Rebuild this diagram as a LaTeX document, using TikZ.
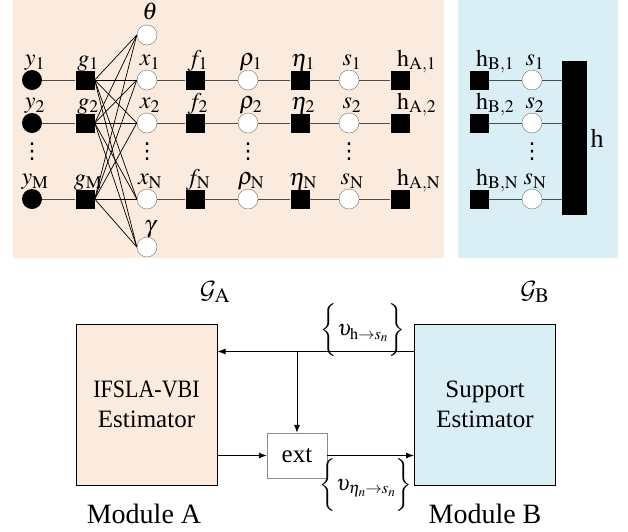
\documentclass[tikz,border=0pt]{standalone}
\usepackage{amsmath}
\usepackage{graphicx}
\usepackage{mathptmx}
\DeclareMathAlphabet{\mathcal}{OMS}{cmsy}{m}{n}
\usepackage[no-math]{fontspec}
\setmainfont{Liberation Serif}
\newfontfamily\dejavu{DejaVu Sans}
\usepackage{tikz}
\usetikzlibrary{arrows.meta,calc,arrows,positioning}
\tikzset{>={Latex[length=8pt,width=6pt]}}
\definecolor{peach}{RGB}{251,234,222}
\definecolor{paleblue}{RGB}{218,238,245}
\tikzset{
  var/.style={circle, draw=black!55, fill=white, minimum size=20pt, inner sep=0pt},
  obs/.style={circle, fill=black, minimum size=20pt, inner sep=0pt},
  fac/.style={rectangle, fill=black, minimum size=19pt, inner sep=0pt},
  lbl/.style={anchor=base, inner sep=0pt, xshift=3pt, yshift=4pt, font=\fontsize{24}{26}\selectfont},
  wire/.style={draw=black!70, line width=0.9pt},
  link/.style={draw=black, line width=0.7pt},
  module/.style={draw, line width=1pt, minimum width=141pt, minimum height=161pt, align=center, font=\fontsize{25}{30}\selectfont},
  bigtext/.style={font=\fontsize{28}{30}\selectfont},
}

\begin{document}
\begin{tikzpicture}[x=1pt,y=-1pt]
  \useasboundingbox (0,0) rectangle (628,531);

  % shaded areas of the two graphs
  \fill[peach] (13,0) rectangle (444,258);
  \fill[paleblue] (458,0) rectangle (618,258);

  % graph A
  \node[var] (th) at (147,35) {};
  \node[var] (gam) at (147,247) {};
  \node[lbl, xshift=0pt, yshift=1pt] (lth) at (th.north) {$\boldsymbol{\theta}$};
  \node[lbl, xshift=0pt] (lgam) at (gam.north) {$\gamma$};
  \foreach \r/\yy/\m/\n in {1/80/1/1,2/123/2/2,3/199/\mathrm{M}/\mathrm{N}}
  {
    \node[obs] (y\r) at (32,\yy) {};
    \node[fac] (g\r) at (85,\yy) {};
    \node[var] (x\r) at (147,\yy) {};
    \node[fac] (f\r) at (195,\yy) {};
    \node[var] (rh\r) at (248,\yy) {};
    \node[fac] (et\r) at (300,\yy) {};
    \node[var] (s\r) at (349,\yy) {};
    \node[fac] (ha\r) at (400,\yy) {};
    \node[lbl] (ly\r) at (y\r.north) {$y_{\m}$};
    \node[lbl] (lg\r) at (g\r.north) {$g_{\m}$};
    \node[lbl] (lx\r) at (x\r.north) {$x_{\n}$};
    \node[lbl] (lf\r) at (f\r.north) {$f_{\n}$};
    \node[lbl] (lrh\r) at (rh\r.north) {$\rho_{\n}$};
    \node[lbl] (let\r) at (et\r.north) {$\eta_{\n}$};
    \node[lbl] (ls\r) at (s\r.north) {$s_{\n}$};
    \node[lbl, anchor=base west, xshift=-6pt] (lha\r) at (ha\r.north) {$\mathrm{h}_{\mathrm{A},\n}$};
    \draw[wire] (y\r) -- (g\r) -- (x\r) -- (f\r) -- (rh\r) -- (et\r) -- (s\r) -- (ha\r);
  }
  \foreach \r in {1,2,3}
    \foreach \t in {th,x1,x2,x3,gam}
      \draw[link] (g\r.east) -- (\t.west);
  \foreach \d/\xx in {dy/32,dx/147,drh/248,ds/349,dsb/532}
    \node[font=\fontsize{22}{24}\dejavu, inner sep=0pt] (\d) at (\xx,152) {⋮};

  % graph B
  \node[fac, minimum width=25pt, minimum height=154pt] (bar) at (574.5,138) {};
  \node[font=\fontsize{26}{28}\selectfont, anchor=west] (hbig) at (bar.east) {h};
  \foreach \r/\yy/\n in {1/80/1,2/123/2,3/199/\mathrm{N}}
  {
    \node[fac] (hb\r) at (479,\yy) {};
    \node[var] (sb\r) at (532,\yy) {};
    \node[lbl, anchor=base west, xshift=-6pt] (lhb\r) at (hb\r.north) {$\mathrm{h}_{\mathrm{B},\n}$};
    \node[lbl] (lsb\r) at (sb\r.north) {$s_{\n}$};
    \draw[wire] (hb\r) -- (sb\r) -- (sb\r -| bar.west);
  }

  % modules
  \node[bigtext] (GA) at (215,292) {$\mathcal{G}_{\mathrm{A}}$};
  \node[bigtext] (GB) at (535,292) {$\mathcal{G}_{\mathrm{B}}$};
  \node[module, fill=peach] (ma) at (146.5,404.5) {\scalebox{0.88}[1]{IFSLA-VBI}\\Estimator};
  \node[module, fill=paleblue] (mb) at (485,404.5) {Support\\Estimator};
  \node[draw=black!45, fill=white, minimum width=60pt, minimum height=45pt, font=\fontsize{25}{30}\selectfont] (ext) at (297,455.5) {ext};
  \node[bigtext] (na) at (144,514) {Module A};
  \node[bigtext] (nb) at (485,514) {Module B};

  \coordinate (fb) at ($(mb.north west)+(0,28)$);
  \coordinate (jn) at (ext.north |- fb);
  \draw[->, line width=0.9pt] (fb) -- (fb -| ma.east);
  \draw[->, line width=0.9pt] (jn) -- (ext.north);
  \draw[->, line width=0.9pt] (ma.east |- ext) -- (ext.west);
  \draw[->, line width=0.9pt] (ext.east) -- (ext -| mb.west);

  \node[font=\fontsize{22}{24}\selectfont] (m1) at (363,330) {$\biggl\{\upsilon_{\mathrm{h}\rightarrow s_n}\biggr\}$};
  \node[font=\fontsize{22}{24}\selectfont] (m2) at (366,485) {$\biggl\{\upsilon_{\eta_n\rightarrow s_n}\biggr\}$};
\end{tikzpicture}
\end{document}
